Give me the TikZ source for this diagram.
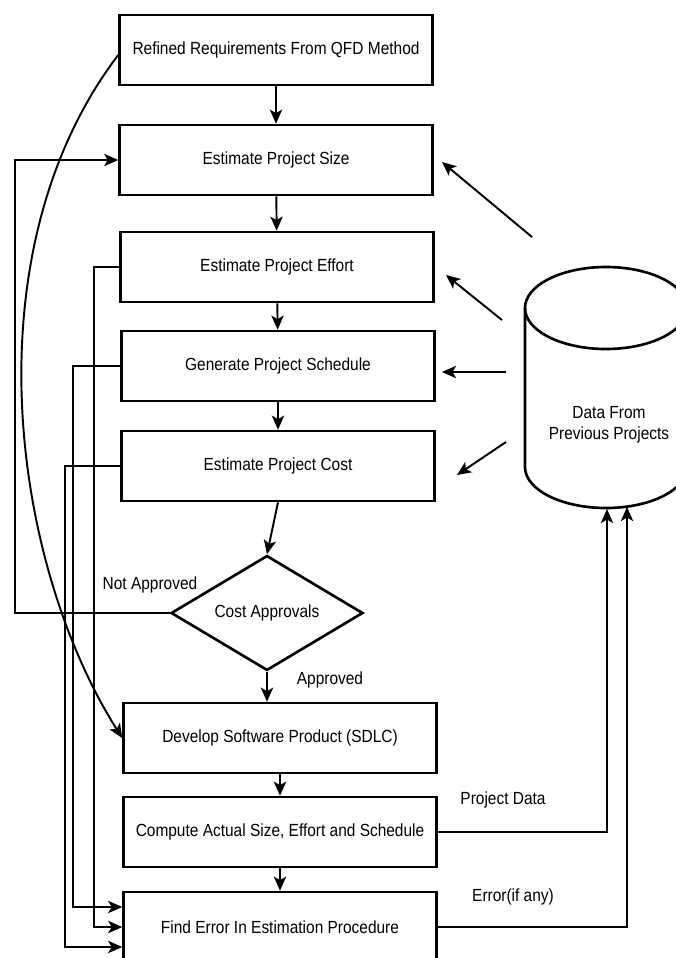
\documentclass[tikz,border=0pt]{standalone}
\usepackage{fontspec}
\setmainfont{Liberation Sans}[FakeStretch=0.88]
\usetikzlibrary{shapes.geometric,arrows.meta}
\tikzset{
  procbox/.style={draw, line width=1.5pt, minimum width=6.26cm, minimum height=1.4cm,
    inner sep=2pt, font=\fontsize{10}{12}\selectfont},
  decision/.style={draw, diamond, aspect=1.67, line width=1.5pt, minimum width=3.84cm,
    minimum height=2.3cm, inner sep=0pt, font=\fontsize{10}{12}\selectfont},
  flow/.style={line width=1.1pt, -{Stealth[length=8pt,width=7pt,inset=2pt]}},
  lbl/.style={font=\fontsize{10}{12}\selectfont}
}
\begin{document}
\begin{tikzpicture}[x=0.02cm,y=0.02cm]
  \useasboundingbox (0,0) rectangle (676,-958);
  \clip (0,0) rectangle (676,-958);
  % main column
  \node[procbox] (req) at (276,-50) {Refined Requirements From QFD Method};
  \node[procbox] (size) at (276,-160) {Estimate Project Size};
  \node[procbox] (effort) at (277,-267) {Estimate Project Effort};
  \node[procbox] (sched) at (278,-366) {Generate Project Schedule};
  \node[procbox] (cost) at (278,-466) {Estimate Project Cost};
  \node[decision] (appr) at (267,-613) {Cost Approvals};
  \node[procbox] (dev) at (280,-738) {Develop Software Product (SDLC)};
  \node[procbox] (comp) at (280,-832) {Compute Actual Size, Effort and Schedule};
  \node[procbox] (err) at (280,-927) {Find Error In Estimation Procedure};
  % data store
  \draw[line width=1.5pt] (525,-308) -- (525,-467)
    arc[start angle=180, end angle=360, x radius=81, y radius=41] -- (687,-308)
    arc[start angle=0, end angle=180, x radius=81, y radius=41];
  \draw[line width=1.5pt] (525,-308) arc[start angle=180, end angle=360, x radius=81, y radius=41];
  \node[lbl, align=center] (data) at (609,-425) {Data From\\Previous Projects};
  \coordinate (d1) at (532,-237);
  \coordinate (d2) at (502,-320);
  \coordinate (d3) at (506,-372);
  \coordinate (d4) at (506,-442);
  \coordinate (s1) at (442,-162);
  \coordinate (s2) at (446,-275);
  \coordinate (s3) at (442,-372);
  \coordinate (s4) at (457,-475);
  \coordinate (pd) at (607,-509);
  \coordinate (ea) at (627,-507);
  % arrows down
  \draw[flow] (req) -- (size);
  \draw[flow] (size) -- (effort);
  \draw[flow] (effort) -- (sched);
  \draw[flow] (sched) -- (cost);
  \draw[flow] (cost.south) -- (appr.north);
  \draw[flow] (appr.south) -- (appr.south |- dev.north);
  \draw[flow] (dev) -- (comp);
  \draw[flow] (comp) -- (err);
  % from previous projects
  \draw[flow] (d1) -- (s1);
  \draw[flow] (d2) -- (s2);
  \draw[flow] (d3) -- (s3);
  \draw[flow] (d4) -- (s4);
  % feedback
  \draw[flow] (appr.west) -- (15,-613) |- (size.west);
  \draw[flow] (effort.west) -- (94,-267) |- (err.west);
  \draw[flow] (sched.west) -- (73,-366) |- ([yshift=0.4cm]err.west);
  \draw[flow] (cost.west) -- (65,-466) |- ([yshift=-0.4cm]err.west);
  \draw[flow] ([yshift=-0.1cm]req.west) .. controls (-30,-250) and (10,-560) .. (dev.west);
  \draw[flow] (comp.east) -| (pd);
  \draw[flow] (err.east) -| (ea);
  % labels
  \node[lbl] (na) at (150,-585) {Not Approved};
  \node[lbl] (ap) at (330,-680) {Approved};
  \node[lbl] (pdl) at (503,-800) {Project Data};
  \node[lbl] (eal) at (513,-897) {Error(if any)};
\end{tikzpicture}
\end{document}
